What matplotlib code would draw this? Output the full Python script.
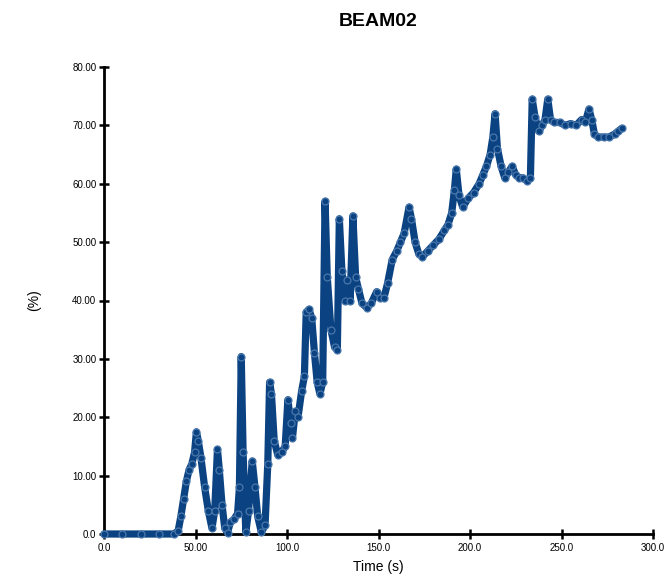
import matplotlib
matplotlib.use("Agg")
import matplotlib.pyplot as plt

title = "BEAM02"
x_label = "Time (s)"
y_label = "(%)"
x_ticks = [0, 50, 100, 150, 200, 250, 300]
x_tick_labels = ["0.0", "50.00", "100.0", "150.0", "200.0", "250.0", "300.0"]
y_ticks = [0, 10, 20, 30, 40, 50, 60, 70, 80]
y_tick_labels = ["0.0", "10.00", "20.00", "30.00", "40.00", "50.00", "60.00", "70.00", "80.00"]

time_s = [0, 10, 20, 30, 38, 40.5, 42, 43.5, 45, 46.5, 48, 49.5, 50.5, 51.5, 53, 55, 57, 59,
          60.5, 62, 63, 64.5, 66, 67.5, 69, 71, 73, 74, 75, 76, 77.5, 79, 81, 82.5, 84, 86,
          88, 89.5, 90.5, 91.5, 93, 95, 97, 99, 100.5, 102, 103, 104.5, 106, 108, 109.5,
          110.5, 112, 113.5, 115, 116.5, 118, 119.5, 120.8, 122, 124, 126, 127.5, 128.6,
          130, 131.5, 133, 134.5, 136, 137.5, 139, 141, 143.5, 146, 149, 151, 153, 155,
          157.5, 160, 162, 164, 166.7, 168, 170, 172, 174, 177, 180, 183, 186, 188, 190,
          191.5, 192.5, 194, 196, 199, 202, 205, 207, 209, 211, 212.5, 213.7, 215, 217,
          219, 221, 223, 225, 227, 229, 231, 233, 234, 235.5, 237.5, 239.5, 241, 242.5,
          244, 246, 249, 252, 255, 258, 261, 263, 265, 266.5, 268, 270, 273, 276, 279,
          281, 283]
percent = [0, 0, 0, 0, 0, 0.5, 3, 6, 9, 11, 12, 14, 17.5, 16, 13, 8, 4, 1,
           4, 14.5, 11, 5, 1, 0.2, 2, 2.5, 3.5, 8, 30.4, 14, 0.3, 4, 12.5, 8, 3, 0.3,
           1.5, 12, 26, 24, 16, 13.5, 14, 15, 23, 19, 16.5, 21, 20, 24.5, 27,
           38, 38.5, 37, 31, 26, 24, 26, 57, 44, 35, 32, 31.5, 54,
           45, 40, 43.5, 40, 54.5, 44, 42, 39.5, 38.8, 39.5, 41.5, 40.5, 40.5, 43,
           47, 48.5, 50, 51.5, 56, 54, 50, 48, 47.5, 48.5, 49.5, 50.5, 52, 53, 55,
           59, 62.5, 58, 56, 57.5, 58.5, 60, 61.5, 63, 65, 68, 72, 66, 63,
           61, 62, 63, 61.5, 61, 61, 60.5, 61, 74.5, 71.5, 69, 70, 71, 74.5,
           71, 70.5, 70.5, 70, 70.3, 70, 71, 70.5, 72.8, 71, 68.5, 68, 68, 68, 68.5,
           69, 69.5]

plt.rcParams['font.family'] = ['Liberation Sans', 'DejaVu Sans']

fig = plt.figure(figsize=(6.64, 5.80), dpi=100)
ax = fig.add_axes([104 / 664, 1 - 534 / 580, (653 - 104) / 664, (534 - 67) / 580])

color = '#0a4282'
ax.plot(time_s, percent, color=color, lw=5.2, solid_joinstyle='round',
        solid_capstyle='round', clip_on=False, zorder=3)
ax.plot(time_s, percent, linestyle='none', marker='o', ms=5, mfc=color,
        mec='#4a78ab', mew=0.9, clip_on=False, zorder=4)

ax.set_xlim(0, 300)
ax.set_ylim(0, 80)
ax.set_xticks(x_ticks)
ax.set_xticklabels(x_tick_labels)
ax.set_yticks(y_ticks)
ax.set_yticklabels(y_tick_labels)

for s in ['top', 'right']:
    ax.spines[s].set_visible(False)
for s in ['left', 'bottom']:
    ax.spines[s].set_linewidth(2)
    ax.spines[s].set_color('black')

ax.tick_params(axis='both', direction='inout', length=7, width=1.8, labelsize=7, colors='black')
ax.tick_params(axis='x', pad=3)
ax.tick_params(axis='y', pad=2)

ax.set_xlabel(x_label, fontsize=10, labelpad=5)
ax.set_ylabel(y_label, fontsize=10, labelpad=22)

fig.text((104 + 653) / 2 / 664, 1 - 22 / 580, title, ha='center', va='center',
         fontsize=14, fontweight='bold')

fig.savefig('out.png', dpi=100)
